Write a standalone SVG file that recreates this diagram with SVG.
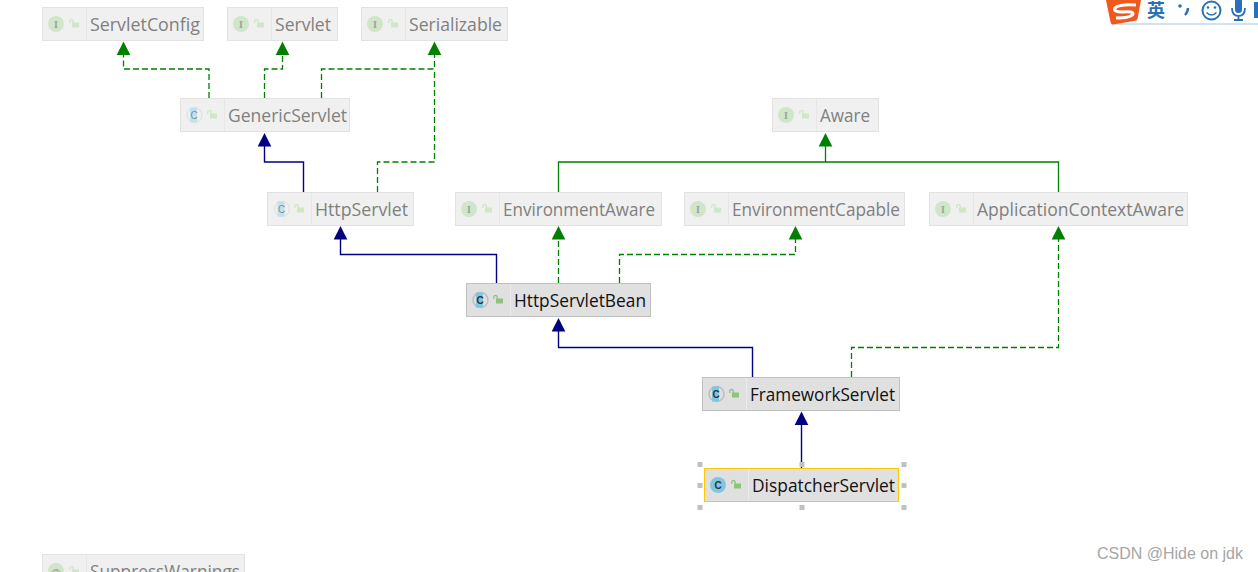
<svg xmlns="http://www.w3.org/2000/svg" width="1258" height="572" viewBox="0 0 1258 572">
<style>
text{font-family:"Open Sans","Noto Sans","Liberation Sans",sans-serif}
.box{fill:#f0f0f0;stroke:#e2e2e2;stroke-width:1}
.abox{fill:#e0e0e0;stroke:#c0c0c0;stroke-width:1}
.sep{stroke:#e6e6e6;stroke-width:1}
.asep{stroke:#ececec;stroke-width:1}
.lab{font-size:18px;fill:#808080}
.alab{font-size:18px;fill:#111}
.ii{font-size:10px;font-family:"Liberation Serif",serif;fill:#a0a0a0;text-anchor:middle;font-weight:bold}
.ic{fill:#cfe6c8}
.cc{font-size:10px;font-family:"Liberation Sans",sans-serif;fill:#8a8a8a;text-anchor:middle}
.ccA{font-size:10px;font-family:"Liberation Sans",sans-serif;fill:#333;text-anchor:middle;font-weight:bold}
.ringF{fill:none;stroke:#e4e4e4;stroke-width:1.500}
.ringA{fill:none;stroke:#bdbdbd;stroke-width:1.500}
.g{fill:none;stroke:#008000;stroke-width:1.3}
.gd{fill:none;stroke:#008000;stroke-width:1.3;stroke-dasharray:6 3}
.b{fill:none;stroke:#000080;stroke-width:1.4}
.hnd{fill:#c0c0c0}
</style>
<defs>
<g id="lockF"><rect x="3" y="3.500" width="7" height="5" fill="#cfe6c8"/><path d="M0.800 4V2Q0.800 0.500 2.500 0.500Q4.200 0.500 4.200 2V4" fill="none" stroke="#cfe6c8" stroke-width="1.300"/></g>
<g id="lockA"><rect x="3" y="3.500" width="7" height="5" fill="#8cc47c"/><path d="M0.800 4V2Q0.800 0.500 2.500 0.500Q4.200 0.500 4.200 2V4" fill="none" stroke="#8cc47c" stroke-width="1.300"/></g>
<path id="ah" d="M0 0L6.800 13.500H-6.800Z"/>
</defs>
<rect width="1258" height="572" fill="#fff"/>

<g id="connectors">
<path class="gd" d="M209 98V69H123.500V54"/>
<path class="gd" d="M264.500 98V69H282.500V54"/>
<path class="gd" d="M321.500 98V69H434.500V54"/>
<path class="gd" d="M377.500 192V162H434.500V69"/>
<path class="b" d="M303.500 192V162H264.500V146"/>
<path class="g" d="M558.500 192V162H825.500V146"/>
<path class="g" d="M1058.500 192V162H825.500"/>
<path class="b" d="M496.500 283V254.500H340.500V238"/>
<path class="gd" d="M558.500 283V238"/>
<path class="gd" d="M619.500 283V254.500H795.500V238"/>
<path class="b" d="M752.500 377V347.500H558.500V331"/>
<path class="gd" d="M851.500 377V347.500H1058.500V238"/>
<path class="b" d="M801.500 468V424"/>
<g fill="#008000">
<use href="#ah" x="123.500" y="41.500"/><use href="#ah" x="282.500" y="41.500"/><use href="#ah" x="434.500" y="41.500"/>
<use href="#ah" x="825.500" y="133"/><use href="#ah" x="558.500" y="226"/><use href="#ah" x="795.500" y="226"/><use href="#ah" x="1058.500" y="226"/>
</g>
<g fill="#000080">
<use href="#ah" x="264.500" y="133"/><use href="#ah" x="340.500" y="226"/><use href="#ah" x="558.500" y="318"/><use href="#ah" x="801.500" y="411.500"/>
</g>
</g>

<g id="node-ServletConfig">
<rect class="box" x="42.500" y="7.500" width="161" height="33"/><line class="sep" x1="86.500" y1="8" x2="86.500" y2="40"/>
<circle class="ic" cx="56" cy="24" r="8"/><text class="ii" x="56" y="27.500">I</text><use href="#lockF" x="69" y="19"/>
<text class="lab" x="90" y="30.500" textLength="110" lengthAdjust="spacingAndGlyphs">ServletConfig</text>
</g>
<g id="node-Servlet">
<rect class="box" x="227.500" y="7.500" width="110" height="33"/><line class="sep" x1="271.500" y1="8" x2="271.500" y2="40"/>
<circle class="ic" cx="241" cy="24" r="8"/><text class="ii" x="241" y="27.500">I</text><use href="#lockF" x="254" y="19"/>
<text class="lab" x="275" y="30.500" textLength="56" lengthAdjust="spacingAndGlyphs">Servlet</text>
</g>
<g id="node-Serializable">
<rect class="box" x="361.500" y="7.500" width="146" height="33"/><line class="sep" x1="405.500" y1="8" x2="405.500" y2="40"/>
<circle class="ic" cx="375" cy="24" r="8"/><text class="ii" x="375" y="27.500">I</text><use href="#lockF" x="388" y="19"/>
<text class="lab" x="409" y="30.500" textLength="93" lengthAdjust="spacingAndGlyphs">Serializable</text>
</g>
<g id="node-GenericServlet">
<rect class="box" x="180.500" y="98.500" width="169" height="33"/><line class="sep" x1="224.500" y1="99" x2="224.500" y2="131"/>
<circle class="ringF" cx="194.500" cy="115" r="7.500"/><rect x="190" y="107.500" width="7" height="15" fill="#bfe2f0"/><text class="cc" x="194" y="118.500">C</text><use href="#lockF" x="207" y="110"/>
<text class="lab" x="228" y="121.500" textLength="119" lengthAdjust="spacingAndGlyphs">GenericServlet</text>
</g>
<g id="node-HttpServlet">
<rect class="box" x="267.500" y="192.500" width="146" height="33"/><line class="sep" x1="311.500" y1="193" x2="311.500" y2="225"/>
<circle class="ringF" cx="282" cy="209" r="7.500"/><rect x="277.500" y="201.500" width="7" height="15" fill="#bfe2f0"/><text class="cc" x="281.500" y="212.500">C</text><use href="#lockF" x="294" y="204"/>
<text class="lab" x="315" y="215.500" textLength="93" lengthAdjust="spacingAndGlyphs">HttpServlet</text>
</g>
<g id="node-Aware">
<rect class="box" x="772.500" y="98.500" width="106" height="33"/><line class="sep" x1="816.500" y1="99" x2="816.500" y2="131"/>
<circle class="ic" cx="786" cy="115" r="8"/><text class="ii" x="786" y="118.500">I</text><use href="#lockF" x="799" y="110"/>
<text class="lab" x="820" y="121.500" textLength="50" lengthAdjust="spacingAndGlyphs">Aware</text>
</g>
<g id="node-EnvironmentAware">
<rect class="box" x="455.500" y="192.500" width="206" height="33"/><line class="sep" x1="499.500" y1="193" x2="499.500" y2="225"/>
<circle class="ic" cx="469" cy="209" r="8"/><text class="ii" x="469" y="212.500">I</text><use href="#lockF" x="482" y="204"/>
<text class="lab" x="503" y="215.500" textLength="152" lengthAdjust="spacingAndGlyphs">EnvironmentAware</text>
</g>
<g id="node-EnvironmentCapable">
<rect class="box" x="684.500" y="192.500" width="220" height="33"/><line class="sep" x1="728.500" y1="193" x2="728.500" y2="225"/>
<circle class="ic" cx="698" cy="209" r="8"/><text class="ii" x="698" y="212.500">I</text><use href="#lockF" x="711" y="204"/>
<text class="lab" x="732" y="215.500" textLength="168" lengthAdjust="spacingAndGlyphs">EnvironmentCapable</text>
</g>
<g id="node-ApplicationContextAware">
<rect class="box" x="929.500" y="192.500" width="258" height="33"/><line class="sep" x1="973.500" y1="193" x2="973.500" y2="225"/>
<circle class="ic" cx="943" cy="209" r="8"/><text class="ii" x="943" y="212.500">I</text><use href="#lockF" x="956" y="204"/>
<text class="lab" x="977" y="215.500" textLength="207" lengthAdjust="spacingAndGlyphs">ApplicationContextAware</text>
</g>
<g id="node-HttpServletBean">
<rect class="abox" x="466.500" y="283.500" width="184" height="33"/><line class="asep" x1="510.500" y1="284" x2="510.500" y2="316"/>
<circle class="ringA" cx="480.500" cy="300" r="7.500"/><rect x="476" y="292.500" width="7" height="15" fill="#7fc6e2"/><text class="ccA" x="480" y="303.500">C</text><use href="#lockA" x="493" y="295"/>
<text class="alab" x="514" y="306.500" textLength="132" lengthAdjust="spacingAndGlyphs">HttpServletBean</text>
</g>
<g id="node-FrameworkServlet">
<rect class="abox" x="702.500" y="377.500" width="197" height="33"/><line class="asep" x1="746.500" y1="378" x2="746.500" y2="410"/>
<circle class="ringA" cx="716.500" cy="394" r="7.500"/><rect x="712" y="386.500" width="7" height="15" fill="#7fc6e2"/><text class="ccA" x="716" y="397.500">C</text><use href="#lockA" x="729" y="389"/>
<text class="alab" x="750" y="400.500" textLength="145" lengthAdjust="spacingAndGlyphs">FrameworkServlet</text>
</g>
<g id="node-DispatcherServlet">
<rect x="704.500" y="468.500" width="194" height="33" fill="#e0e0e0" stroke="#ffc800" stroke-width="1"/><line class="asep" x1="748.500" y1="469" x2="748.500" y2="501"/>
<circle cx="718" cy="485" r="8" fill="#7fc6e2"/><text class="ccA" x="718" y="488.500">C</text><use href="#lockA" x="731" y="480"/>
<text class="alab" x="752" y="491.500" textLength="143" lengthAdjust="spacingAndGlyphs">DispatcherServlet</text>
<g class="hnd"><rect x="697.500" y="462" width="5" height="5"/><rect x="799.500" y="462" width="5" height="5"/><rect x="901.500" y="462" width="5" height="5"/><rect x="697.500" y="483" width="5" height="5"/><rect x="901.500" y="483" width="5" height="5"/><rect x="697.500" y="505" width="5" height="5"/><rect x="799.500" y="505" width="5" height="5"/><rect x="901.500" y="505" width="5" height="5"/></g>
</g>
<g id="node-SuppressWarnings">
<rect class="box" x="42.500" y="554.500" width="202" height="33"/><line class="sep" x1="86.500" y1="555" x2="86.500" y2="572"/>
<circle class="ic" cx="56" cy="571" r="8"/><text class="ii" x="56" y="574.500" style="font-size:9px;font-family:'Liberation Sans',sans-serif">@</text><use href="#lockF" x="69" y="566"/>
<text class="lab" x="90" y="577.500" textLength="150" lengthAdjust="spacingAndGlyphs">SuppressWarnings</text>
</g>

<g id="ime-toolbar">
<path d="M1112 24H1258" stroke="#d4e0ec" stroke-width="2" fill="none"/>
<path d="M1106 0H1141L1137.500 19Q1137 21 1134 21L1113 24.500Q1111 24.500 1110.500 22Z" fill="#ee5a1e"/>
<path d="M1136 5Q1119 4 1115 8Q1113 12 1122 12Q1134 11 1133 14Q1131 18 1116 18" fill="none" stroke="#fff" stroke-width="3"/>
<text x="1147" y="17" style="font-size:18px;font-weight:bold;font-family:'Noto Sans CJK SC',sans-serif;fill:#2a70b8">英</text>
<circle cx="1180" cy="6" r="1.800" fill="#2a70b8"/><path d="M1188 8Q1188 12 1185 15" fill="none" stroke="#2a70b8" stroke-width="2.400"/>
<circle cx="1211.500" cy="10.500" r="9" fill="#fff" stroke="#2a70b8" stroke-width="2"/><circle cx="1208" cy="7.500" r="1.300" fill="#2a70b8"/><circle cx="1215" cy="7.500" r="1.300" fill="#2a70b8"/><path d="M1206.500 12.500Q1211.500 17.500 1216.500 12.500" fill="none" stroke="#2a70b8" stroke-width="1.600"/>
<rect x="1235" y="-2" width="7" height="15" rx="3.500" fill="#2a70b8"/><path d="M1232 8Q1232 16 1238.500 16Q1245 16 1245 8M1238.500 16V20M1234 20H1243" fill="none" stroke="#2a70b8" stroke-width="1.800"/>
<rect x="1254" y="2" width="4" height="16" fill="#2a70b8"/>
</g>
<text id="watermark" x="1097" y="559" style="font-size:16px;fill:#a6a6a6;font-family:'Liberation Sans',Arial,sans-serif" textLength="146" lengthAdjust="spacingAndGlyphs">CSDN @Hide on jdk</text>
</svg>
